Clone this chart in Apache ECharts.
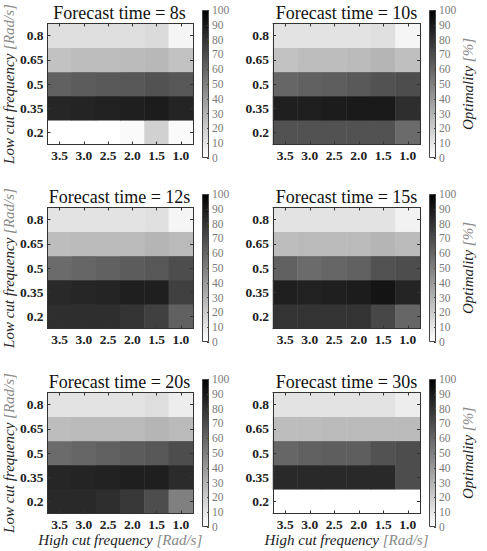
<!DOCTYPE html>
<html>
<head>
<meta charset="utf-8">
<script src="https://cdn.jsdelivr.net/npm/echarts@6/dist/echarts.min.js"></script>
<style>
  html, body { margin: 0; padding: 0; background: #fff; }
  #chart { width: 487px; height: 551px; }
</style>
</head>
<body>
<div id="chart"></div>
<script>
// 坐标类别
const highCut = ['3.5', '3.0', '2.5', '2.0', '1.5', '1.0'];
const lowCut = ['0.2', '0.35', '0.5', '0.65', '0.8'];
const forecastTimes = ['8s', '10s', '12s', '15s', '20s', '30s'];

// 每行对应一个 low cut (从 0.2 开始)，每列对应 highCut
const opt8 = [
    [0, 0, 0, 2, 18, 2],
    [85, 86, 87, 88, 89, 86],
    [62, 64, 65, 66, 68, 66],
    [24, 26, 26, 27, 28, 24],
    [13, 13, 13, 13, 14, 4]
];
const opt10 = [
    [68, 68, 68, 68, 68, 58],
    [88, 88, 89, 90, 90, 82],
    [60, 62, 63, 65, 68, 70],
    [24, 26, 26, 27, 29, 25],
    [11, 11, 11, 11, 12, 4]
];
const opt12 = [
    [82, 82, 82, 80, 75, 62],
    [84, 85, 86, 88, 88, 75],
    [58, 60, 62, 64, 66, 70],
    [26, 27, 27, 27, 29, 27],
    [11, 11, 11, 11, 12, 4]
];
const opt15 = [
    [80, 80, 80, 80, 72, 60],
    [88, 87, 88, 89, 92, 86],
    [62, 58, 60, 62, 68, 70],
    [26, 27, 27, 27, 29, 27],
    [11, 11, 11, 11, 11, 5]
];
const opt20 = [
    [84, 84, 82, 78, 70, 50],
    [85, 86, 87, 88, 88, 83],
    [58, 60, 62, 64, 66, 70],
    [26, 27, 27, 27, 29, 27],
    [11, 11, 11, 11, 13, 7]
];
const opt30 = [
    [0, 0, 0, 0, 0, 0],
    [84, 84, 84, 84, 84, 70],
    [60, 62, 63, 63, 68, 70],
    [26, 26, 27, 27, 27, 27],
    [11, 11, 11, 11, 11, 7]
];
const panels = [opt8, opt10, opt12, opt15, opt20, opt30];

// 色条
const colorbarValue = [100];

const serif = "'Liberation Serif', 'DejaVu Serif', serif";
const plotLefts = [46, 273];
const plotTops = [23.5, 207.5, 392.5];
const cbLefts = [202, 429];

let myChart = echarts.init(document.getElementById('chart'), null, { renderer: 'svg' });

let option = {
    animation: false,
    title: [],
    grid: [],
    xAxis: [],
    yAxis: [],
    series: [],
    visualMap: []
};

let heatmapIdx = [];
let axisLine = { show: true, lineStyle: { color: '#333', width: 1 } };
let axisTick = { show: true, inside: true, alignWithLabel: true, length: 3, lineStyle: { color: '#333' } };
let tickFont = { fontFamily: serif, fontSize: 13.5, fontWeight: 'bold', color: '#222' };
let nameRich = {
    a: { fontFamily: serif, fontStyle: 'italic', fontSize: 15, color: '#222' },
    b: { fontFamily: serif, fontStyle: 'italic', fontSize: 15, color: '#888' }
};

panels.forEach((values, i) => {
    let col = i % 2;
    let row = Math.floor(i / 2);
    let left = plotLefts[col];
    let top = plotTops[row];

    option.title.push({
        text: 'Forecast time = ' + forecastTimes[i],
        left: left + 73.5,
        top: top - 20,
        textAlign: 'center',
        padding: 0,
        textStyle: { fontFamily: serif, fontSize: 18, fontWeight: 'normal', color: '#111' }
    });

    // 热力图
    let g = option.grid.length;
    option.grid.push({ left: left, top: top, width: 147, height: 121 });

    let xb = {
        gridIndex: g, type: 'category', data: highCut, position: 'bottom', z: 5,
        axisLine: axisLine, axisTick: axisTick,
        axisLabel: Object.assign({ margin: 4 }, tickFont),
        splitLine: { show: false }
    };
    if (row === 2) {
        xb.name = '{a|High cut frequency }{b|[Rad/s]}';
        xb.nameLocation = 'middle';
        xb.nameGap = 15;
        xb.nameTextStyle = { rich: nameRich };
    }
    let xIdx = option.xAxis.length;
    option.xAxis.push(xb);
    option.xAxis.push({
        gridIndex: g, type: 'category', data: highCut, position: 'top', z: 5,
        axisLine: axisLine, axisTick: axisTick, axisLabel: { show: false }
    });

    let yl = {
        gridIndex: g, type: 'category', data: lowCut, position: 'left', z: 5,
        axisLine: axisLine, axisTick: axisTick,
        axisLabel: Object.assign({ margin: 4 }, tickFont),
        splitLine: { show: false }
    };
    if (col === 0) {
        yl.name = '{a|Low cut frequency }{b|[Rad/s]}';
        yl.nameLocation = 'middle';
        yl.nameRotate = 90;
        yl.nameGap = 30;
        yl.nameTextStyle = { rich: nameRich };
    }
    let yIdx = option.yAxis.length;
    option.yAxis.push(yl);
    option.yAxis.push({
        gridIndex: g, type: 'category', data: lowCut, position: 'right', z: 5,
        axisLine: axisLine, axisTick: axisTick, axisLabel: { show: false }
    });

    let data = [];
    values.forEach((r, yi) => {
        r.forEach((v, xi) => {
            data.push([xi, yi, v]);
        });
    });
    heatmapIdx.push(option.series.length);
    option.series.push({
        type: 'heatmap',
        xAxisIndex: xIdx,
        yAxisIndex: yIdx,
        data: data,
        silent: true
    });

    // 色条
    let cg = option.grid.length;
    option.grid.push({ left: cbLefts[col], top: top - 13.5, width: 7, height: 148 });
    let cbx = option.xAxis.length;
    option.xAxis.push({ gridIndex: cg, type: 'category', data: [''], show: false });
    let cby = option.yAxis.length;
    let cbAxis = {
        gridIndex: cg, type: 'value', min: 0, max: 100, interval: 10, position: 'right', z: 5,
        axisLine: { show: false },
        axisTick: { show: true, inside: true, length: 2, lineStyle: { color: '#444' } },
        axisLabel: { fontFamily: serif, fontSize: 11.5, color: '#7a7a7a', margin: 3 },
        splitLine: { show: false }
    };
    if (col === 1) {
        cbAxis.name = '{a|Optimality }{b|[%]}';
        cbAxis.nameLocation = 'middle';
        cbAxis.nameRotate = 90;
        cbAxis.nameGap = 23;
        cbAxis.nameTextStyle = { rich: nameRich };
    }
    option.yAxis.push(cbAxis);
    option.series.push({
        type: 'bar',
        xAxisIndex: cbx,
        yAxisIndex: cby,
        data: colorbarValue,
        barWidth: '100%',
        silent: true,
        itemStyle: {
            borderColor: '#444',
            borderWidth: 1,
            color: {
                type: 'linear', x: 0, y: 1, x2: 0, y2: 0,
                colorStops: [{ offset: 0, color: '#ffffff' }, { offset: 1, color: '#000000' }]
            }
        }
    });
});

option.visualMap.push({
    type: 'continuous',
    show: false,
    min: 0,
    max: 100,
    seriesIndex: heatmapIdx,
    inRange: { color: ['#ffffff', '#000000'] }
});

myChart.setOption(option);
</script>
</body>
</html>
